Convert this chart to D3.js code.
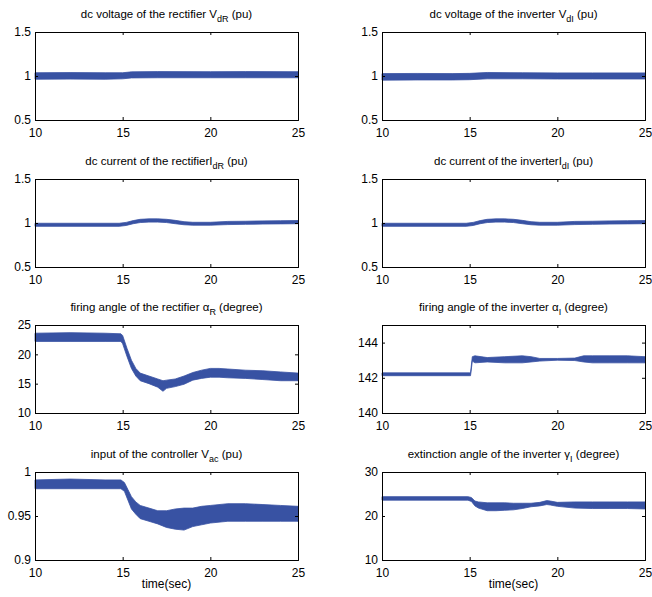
<!DOCTYPE html>
<html><head><meta charset="utf-8">
<script src="https://cdn.jsdelivr.net/npm/d3@7"></script>
<style>body{margin:0;background:#fff}svg{display:block}text{font-family:Arial,"Liberation Sans",Helvetica,sans-serif;fill:#000}</style>
</head><body>
<svg id="c" width="652" height="597"></svg>
<script>
// time axis ticks
const xTicks = [10, 15, 20, 25];

// Panel 1: dc voltage of the rectifier (band lower/upper)
const vdrT  = [10, 12, 14, 15, 15.5, 17, 20, 22, 25];
const vdrLo = [0.963, 0.965, 0.963, 0.968, 0.978, 0.98, 0.98, 0.98, 0.98];
const vdrHi = [1.037, 1.039, 1.037, 1.037, 1.047, 1.05, 1.049, 1.05, 1.049];

// Panel 2: dc voltage of the inverter
const vdiT  = [10, 12, 14, 15, 16, 18, 20, 22, 25];
const vdiLo = [0.953, 0.955, 0.955, 0.958, 0.968, 0.968, 0.966, 0.966, 0.966];
const vdiHi = [1.027, 1.029, 1.027, 1.03, 1.04, 1.037, 1.035, 1.035, 1.035];

// Panel 3: dc current of the rectifier
const idrT  = [10, 14.8, 15.2, 15.6, 16, 16.5, 17, 17.5, 18, 18.5, 19, 20, 21, 22, 23, 24, 25];
const idrLo = [0.962, 0.962, 0.972, 0.992, 1.005, 1.01, 1.01, 1.005, 0.992, 0.98, 0.975, 0.975, 0.982, 0.985, 0.988, 0.99, 0.992];
const idrHi = [0.997, 0.997, 1.007, 1.027, 1.042, 1.047, 1.047, 1.042, 1.03, 1.015, 1.008, 1.008, 1.018, 1.02, 1.024, 1.026, 1.028];

// Panel 4: dc current of the inverter
const idiT  = [10, 14.8, 15.2, 15.6, 16, 16.5, 17, 17.5, 18, 18.5, 19, 20, 21, 22, 23, 24, 25];
const idiLo = [0.962, 0.962, 0.972, 0.992, 1.005, 1.01, 1.01, 1.005, 0.992, 0.98, 0.975, 0.975, 0.982, 0.985, 0.988, 0.99, 0.992];
const idiHi = [0.997, 0.997, 1.007, 1.027, 1.042, 1.047, 1.047, 1.042, 1.03, 1.015, 1.008, 1.008, 1.018, 1.02, 1.024, 1.026, 1.028];

// Panel 5: firing angle of the rectifier (degree)
const arT  = [10, 12, 14, 14.9, 15.0, 15.25, 15.5, 15.75, 16, 16.5, 17, 17.3, 17.5, 18, 18.5, 19, 19.5, 20, 20.5, 21, 22, 23, 24, 25];
const arLo = [22.2, 22.2, 22.2, 22.2, 21.8, 19.6, 17.6, 16.3, 15.5, 15.0, 14.4, 13.7, 14.2, 14.5, 14.9, 15.6, 15.9, 16.1, 16.1, 16.0, 15.9, 15.7, 15.5, 15.5];
const arHi = [23.6, 23.7, 23.6, 23.5, 23.2, 21.0, 19.0, 17.6, 16.8, 16.3, 15.8, 15.5, 15.6, 15.8, 16.3, 16.9, 17.3, 17.6, 17.6, 17.5, 17.3, 17.2, 17.0, 16.8];

// Panel 6: firing angle of the inverter (degree)
const aiT  = [10, 15.0, 15.05, 15.15, 15.3, 16, 17, 18, 18.5, 19, 20, 21, 21.5, 22, 23, 24, 25];
const aiLo = [142.12, 142.12, 142.12, 142.95, 142.85, 142.9, 142.85, 142.85, 142.9, 142.95, 143.0, 142.98, 142.9, 142.85, 142.85, 142.85, 142.85];
const aiHi = [142.28, 142.28, 142.28, 143.2, 143.25, 143.15, 143.2, 143.25, 143.2, 143.1, 143.1, 143.12, 143.25, 143.25, 143.25, 143.25, 143.2];

// Panel 7: input of the controller Vac (pu)
const vacT  = [10, 12, 14, 14.9, 15.1, 15.3, 15.5, 15.75, 16, 16.5, 17, 17.5, 18, 18.5, 19, 19.5, 20, 21, 22, 23, 24, 25];
const vacLo = [0.981, 0.981, 0.981, 0.981, 0.978, 0.968, 0.958, 0.952, 0.947, 0.944, 0.941, 0.937, 0.935, 0.934, 0.938, 0.940, 0.942, 0.944, 0.944, 0.944, 0.944, 0.944];
const vacHi = [0.991, 0.992, 0.991, 0.991, 0.988, 0.980, 0.972, 0.966, 0.962, 0.959, 0.956, 0.956, 0.958, 0.959, 0.959, 0.961, 0.962, 0.964, 0.964, 0.963, 0.962, 0.961];

// Panel 8: extinction angle of the inverter (degree)
const gT  = [10, 14.9, 15.1, 15.3, 15.5, 16, 16.5, 17, 17.5, 18, 18.5, 19, 19.4, 19.6, 20, 21, 22, 23, 24, 25];
const gLo = [23.6, 23.6, 23.3, 22.3, 21.8, 21.2, 21.2, 21.3, 21.4, 21.7, 22.1, 22.3, 22.6, 22.5, 22.2, 21.8, 21.7, 21.7, 21.7, 21.6];
const gHi = [24.4, 24.4, 24.2, 23.4, 23.2, 23.0, 23.0, 23.0, 22.9, 22.9, 22.9, 23.1, 23.5, 23.4, 23.1, 23.2, 23.2, 23.2, 23.2, 23.2];

// y domains & ticks
const yDom1 = [0.5, 1.5], yTicks1 = [0.5, 1, 1.5];
const yDomAR = [10, 25], yTicksAR = [10, 15, 20, 25];
const yDomAI = [140, 145], yTicksAI = [140, 142, 144];
const yDomVac = [0.9, 1], yTicksVac = [0.9, 0.95, 1];
const yDomG = [10, 30], yTicksG = [10, 20, 30];

const panels = [
  {col:0,row:0,t:vdrT,lo:vdrLo,hi:vdrHi,dom:yDom1,ticks:yTicks1,title:["dc voltage of the rectifier V","dR"," (pu)"]},
  {col:1,row:0,t:vdiT,lo:vdiLo,hi:vdiHi,dom:yDom1,ticks:yTicks1,title:["dc voltage of the inverter V","dI"," (pu)"]},
  {col:0,row:1,t:idrT,lo:idrLo,hi:idrHi,dom:yDom1,ticks:yTicks1,title:["dc current of the rectifierI","dR"," (pu)"]},
  {col:1,row:1,t:idiT,lo:idiLo,hi:idiHi,dom:yDom1,ticks:yTicks1,title:["dc current of the inverterI","dI"," (pu)"]},
  {col:0,row:2,t:arT,lo:arLo,hi:arHi,dom:yDomAR,ticks:yTicksAR,title:["firing angle of the rectifier α","R"," (degree)"]},
  {col:1,row:2,t:aiT,lo:aiLo,hi:aiHi,dom:yDomAI,ticks:yTicksAI,title:["firing angle of the inverter α","I"," (degree)"]},
  {col:0,row:3,t:vacT,lo:vacLo,hi:vacHi,dom:yDomVac,ticks:yTicksVac,title:["input of the controller V","ac"," (pu)"],xlabel:true},
  {col:1,row:3,t:gT,lo:gLo,hi:gHi,dom:yDomG,ticks:yTicksG,title:["extinction angle of the inverter γ","I"," (degree)"],xlabel:true}
];

const colX = [[35, 298], [382, 645]];
const rowTop = [32, 179, 325, 472];
const H = 88;
const blue = "#3852a3";
const svg = d3.select("#c");

panels.forEach(p => {
  const [x0, x1] = colX[p.col];
  const y0 = rowTop[p.row], y1 = y0 + H;
  const x = d3.scaleLinear().domain([10, 25]).range([x0, x1]);
  const y = d3.scaleLinear().domain(p.dom).range([y1, y0]);
  const g = svg.append("g");
  const data = p.t.map((t, i) => ({t, lo: p.lo[i], hi: p.hi[i]}));
  g.append("path").datum(data)
    .attr("d", d3.area().x(d => x(d.t)).y0(d => y(d.lo)).y1(d => y(d.hi)))
    .attr("fill", blue).attr("stroke", blue).attr("stroke-width", 0.8);

  // axes, MATLAB-like inward ticks
  const fmt = d3.format("");
  const axB = g.append("g").attr("transform", `translate(0,${y1})`)
    .call(d3.axisBottom(x).tickValues(xTicks).tickSize(-3).tickPadding(6).tickFormat(fmt));
  const axT = g.append("g").attr("transform", `translate(0,${y0})`)
    .call(d3.axisTop(x).tickValues(xTicks).tickSize(-3).tickFormat(""));
  const axL = g.append("g").attr("transform", `translate(${x0},0)`)
    .call(d3.axisLeft(y).tickValues(p.ticks).tickSize(-3).tickPadding(4).tickFormat(fmt));
  const axR = g.append("g").attr("transform", `translate(${x1},0)`)
    .call(d3.axisRight(y).tickValues(p.ticks).tickSize(-3).tickFormat(""));
  [axB, axT, axL, axR].forEach(a => {
    a.select(".domain").attr("stroke", "#000").attr("stroke-width", 1);
    a.selectAll(".tick line").attr("stroke", "#000");
    a.selectAll("text").attr("font-size", 12).attr("font-family", "Arial, 'Liberation Sans', sans-serif").attr("fill", "#1a1a1a");
  });
  axB.selectAll(".tick text").attr("dy", "0.95em");

  // title with subscript
  const tt = g.append("text").attr("x", (x0 + x1) / 2).attr("y", y0 - 14.5)
    .attr("text-anchor", "middle").attr("font-size", 11.5).attr("fill", "#1a1a1a");
  tt.append("tspan").text(p.title[0]);
  tt.append("tspan").attr("dy", 4).attr("font-size", 9).text(p.title[1]);
  tt.append("tspan").attr("dy", -4).text(p.title[2]);

  if (p.xlabel) {
    g.append("text").attr("x", (x0 + x1) / 2).attr("y", y1 + 28)
      .attr("text-anchor", "middle").attr("font-size", 12).attr("fill", "#1a1a1a").text("time(sec)");
  }
});
</script>
</body></html>
